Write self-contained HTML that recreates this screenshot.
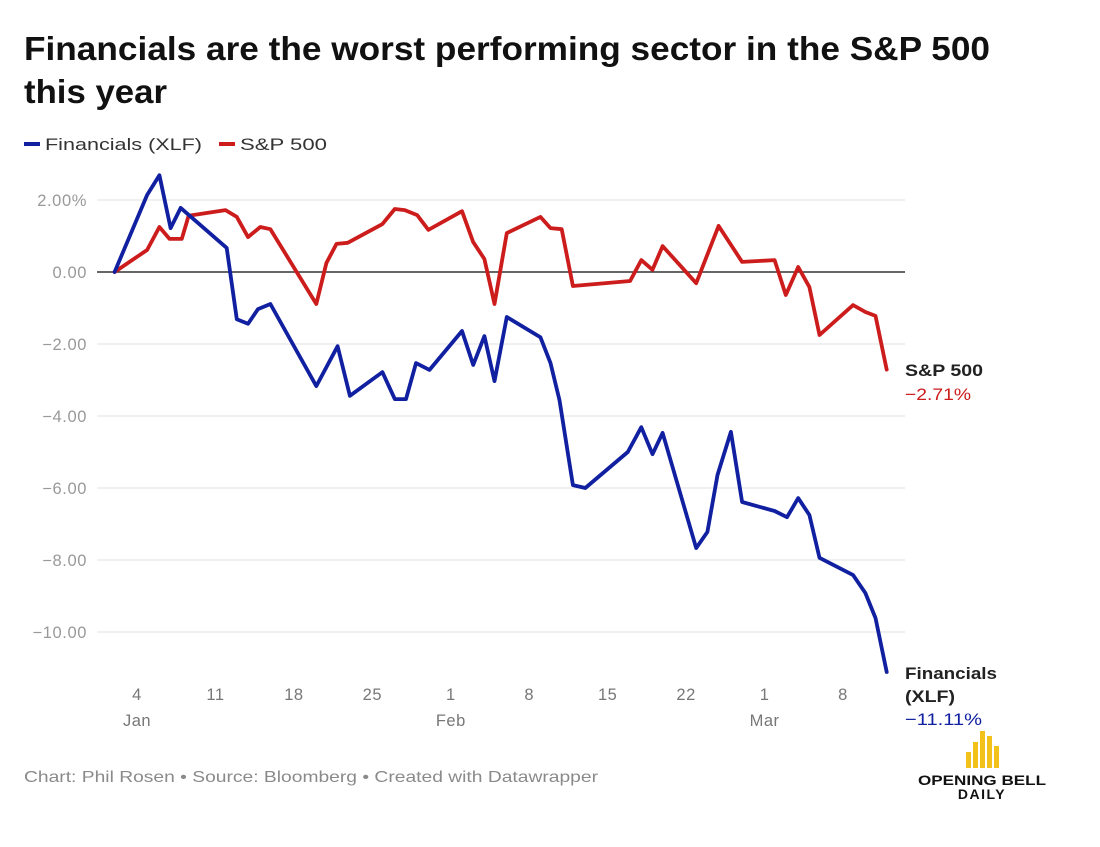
<!DOCTYPE html>
<html><head><meta charset="utf-8"><style>
body{margin:0;background:#fff;font-family:"Liberation Sans",sans-serif;}
#wrap{position:relative;width:1100px;height:847px;overflow:hidden;}
</style></head><body>
<div id="wrap">
<svg id="svg" width="1100" height="847">
<text x="24" y="60" font-size="33" font-weight="bold" fill="#111" textLength="966" lengthAdjust="spacingAndGlyphs">Financials are the worst performing sector in the S&amp;P 500</text>
<text x="24" y="103" font-size="33" font-weight="bold" fill="#111" textLength="143" lengthAdjust="spacingAndGlyphs">this year</text>
<g>
<line x1="24" y1="144" x2="40" y2="144" stroke="#1020a0" stroke-width="4"/>
<text x="45" y="150" font-size="17" fill="#333" textLength="157" lengthAdjust="spacingAndGlyphs">Financials (XLF)</text>
<line x1="219" y1="144" x2="235" y2="144" stroke="#cc1c1c" stroke-width="4"/>
<text x="240" y="150" font-size="17" fill="#333" textLength="87" lengthAdjust="spacingAndGlyphs">S&amp;P 500</text>
</g>
<g id="grid"></g>
<g id="lines"></g>
<text x="905" y="376" font-size="17" font-weight="bold" fill="#222" textLength="78" lengthAdjust="spacingAndGlyphs">S&amp;P 500</text>
<text x="905" y="400" font-size="17" fill="#cc1c1c" textLength="66" lengthAdjust="spacingAndGlyphs">−2.71%</text>
<text x="905" y="679" font-size="17" font-weight="bold" fill="#222" textLength="92" lengthAdjust="spacingAndGlyphs">Financials</text>
<text x="905" y="702" font-size="17" font-weight="bold" fill="#222" textLength="50" lengthAdjust="spacingAndGlyphs">(XLF)</text>
<text x="905" y="725" font-size="17" fill="#1020a0" textLength="77" lengthAdjust="spacingAndGlyphs">−11.11%</text>
<text x="24" y="782" font-size="16" fill="#8a8a8a" textLength="574" lengthAdjust="spacingAndGlyphs">Chart: Phil Rosen • Source: Bloomberg • Created with Datawrapper</text>
<g>
<rect x="966" y="752" width="5" height="16" fill="#f2c21b"/>
<rect x="973" y="742" width="5" height="26" fill="#f2c21b"/>
<rect x="980" y="731" width="5" height="37" fill="#f2c21b"/>
<rect x="987" y="736" width="5" height="32" fill="#f2c21b"/>
<rect x="994" y="746" width="5" height="22" fill="#f2c21b"/>
<text x="918" y="785" font-size="14" font-weight="bold" fill="#111" textLength="128" lengthAdjust="spacingAndGlyphs">OPENING BELL</text>
<text x="982" y="799" font-size="14" font-weight="bold" fill="#111" text-anchor="middle" letter-spacing="1.5">DAILY</text>
</g>
</svg>
</div>
<script>
const yTicks=[2,0,-2,-4,-6,-8,-10];
const yTickLabels=["2.00%","0.00","−2.00","−4.00","−6.00","−8.00","−10.00"];
const xTickDays=[3,10,17,24,31,38,45,52,59,66];
const xTickLabels=["4","11","18","25","1","8","15","22","1","8"];
const monthDays=[3,31,59];
const monthLabels=["Jan","Feb","Mar"];
const finDays=[1,3.9,5,6,6.9,11,11.9,12.9,13.8,14.9,19,20.9,22,24.9,26,27,27.9,29.1,32,33,34,34.9,36,39,39.9,40.7,41.9,43,46.8,48,49,49.9,52.9,53.9,54.8,56,57,59.9,61,62,63,63.9,66.9,68,68.9,69.9];
const finValues=[0,2.14,2.69,1.22,1.78,0.67,-1.31,-1.44,-1.03,-0.89,-3.17,-2.06,-3.44,-2.78,-3.53,-3.53,-2.53,-2.72,-1.64,-2.58,-1.78,-3.03,-1.25,-1.81,-2.53,-3.56,-5.92,-6.0,-5.0,-4.31,-5.06,-4.47,-7.67,-7.22,-5.64,-4.44,-6.39,-6.64,-6.81,-6.28,-6.75,-7.94,-8.42,-8.92,-9.61,-11.11];
const spDays=[1,3.9,5,5.9,7,7.6,10.9,11.9,12.9,14,14.9,19,19.9,20.8,21.8,24.9,26,26.9,28,29,32,33,34,34.9,36,39,39.9,40.9,41.9,47,48,49,49.9,52.9,54.9,57,59.9,60.9,62,63,63.9,66.9,68,68.9,69.9];
const spValues=[0,0.61,1.25,0.92,0.92,1.56,1.72,1.53,0.97,1.25,1.19,-0.89,0.25,0.78,0.81,1.33,1.75,1.72,1.58,1.17,1.69,0.83,0.36,-0.89,1.08,1.53,1.22,1.19,-0.39,-0.25,0.33,0.06,0.72,-0.31,1.28,0.28,0.33,-0.64,0.14,-0.42,-1.75,-0.92,-1.11,-1.22,-2.71];
const NS="http://www.w3.org/2000/svg";
const xS=d=>103.4+d*11.206;
const yS=v=>272-v*36;
function mk(tag,attrs,parent){const e=document.createElementNS(NS,tag);for(const k in attrs)e.setAttribute(k,attrs[k]);parent.appendChild(e);return e;}
const grid=document.getElementById('grid');
yTicks.forEach((t,i)=>{
  const l=mk('line',{x1:97,x2:905,y1:yS(t),y2:yS(t),stroke:t===0?'#333':'#e2e2e2','stroke-width':t===0?1.5:1},grid);
  
  
  const tx=mk('text',{x:87,y:yS(t)+6,'font-size':16.5,fill:'#999','text-anchor':'end','letter-spacing':0.6},grid);
  tx.textContent=yTickLabels[i];
  
  
});
xTickDays.forEach((d,i)=>{
  const tx=mk('text',{x:xS(d),y:700,'font-size':16.5,fill:'#777','text-anchor':'middle','letter-spacing':0.5},grid);
  tx.textContent=xTickLabels[i];
  
  
});
monthDays.forEach((d,i)=>{
  const tx=mk('text',{x:xS(d),y:726,'font-size':16.5,fill:'#777','text-anchor':'middle','letter-spacing':0.5},grid);
  tx.textContent=monthLabels[i];
  
  
});
const lines=document.getElementById('lines');
function drawLine(days,vals,color,name){
  const d=days.map((x,i)=>(i?'L':'M')+xS(x).toFixed(1)+','+yS(vals[i]).toFixed(1)).join(' ');
  const p=mk('path',{d:d,fill:'none',stroke:color,'stroke-width':3.8,'stroke-linejoin':'round','stroke-linecap':'round'},lines);
  
  
}
drawLine(spDays,spValues,'#cc1c1c','sp500-line');
drawLine(finDays,finValues,'#1020a0','financials-line');
</script>
</body></html>
